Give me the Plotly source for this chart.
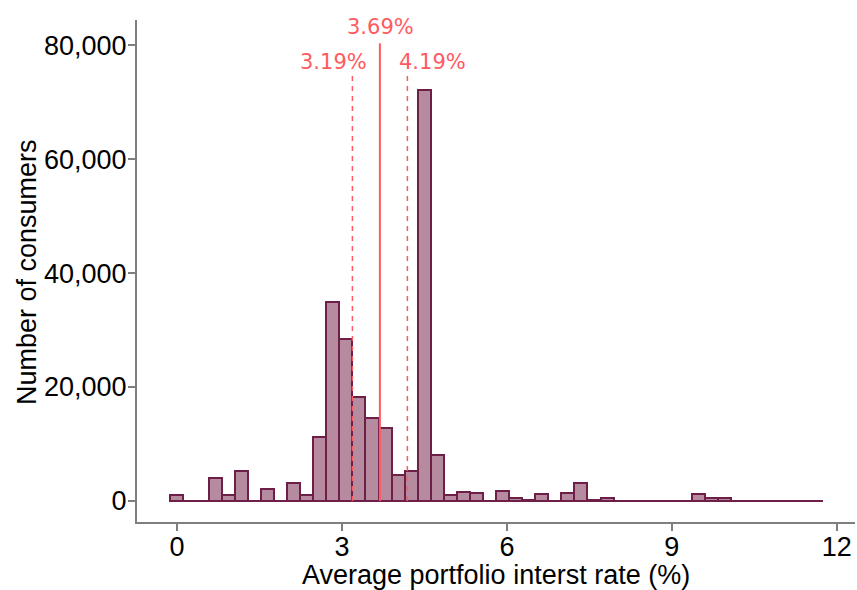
import plotly.graph_objects as go

# Histogram data (50 equal-width bins)
bin_start = -0.135
bin_width = 0.2375
counts = [1000, 0, 0, 4100, 1000, 5200, 0, 2050, 0, 3200,
          1000, 11200, 35000, 28400, 18200, 14600, 12750, 4500, 5300, 72200,
          8000, 1000, 1580, 1460, 0, 1700, 470, 200, 1290, 0,
          1450, 3100, 150, 450, 0, 0, 0, 0, 0, 0,
          1170, 470, 470, 0, 0, 0, 0, 0, 0, 0]

# Reference lines (mean and +/- 0.5)
ref_values = [3.19, 3.69, 4.19]
ref_labels = ["3.19%", "3.69%", "4.19%"]
ref_tops = [75000, 80300, 75000]
label_x = [2.855, 3.70, 4.645]
label_y = [77000, 83200, 77000]

x_ticks = [0, 3, 6, 9, 12]
y_ticks = [0, 20000, 40000, 60000, 80000]

centers = [bin_start + (i + 0.5) * bin_width for i in range(len(counts))]
x_end = bin_start + len(counts) * bin_width

fill = "#B68A9F"
edge = "#6E1F48"
red = "#FF5A5F"

fig = go.Figure()
fig.add_trace(go.Scatter(x=[bin_start, x_end], y=[0, 0], mode="lines",
                         line=dict(color=edge, width=2), hoverinfo="skip",
                         showlegend=False))
fig.add_trace(go.Bar(x=centers, y=counts, width=bin_width,
                     marker=dict(color=fill, line=dict(color=edge, width=2)),
                     showlegend=False))

for v, top, lab, lx, ly in zip(ref_values, ref_tops, ref_labels, label_x, label_y):
    solid = abs(v - 3.69) < 1e-9
    fig.add_shape(type="line", x0=v, x1=v, y0=0, y1=top, xref="x", yref="y",
                  line=dict(color=red, width=2 if solid else 1.5,
                            dash="solid" if solid else "5px,5px"),
                  layer="above")
    fig.add_annotation(x=lx, y=ly, xref="x", yref="y", text=lab, showarrow=False,
                       font=dict(family="DejaVu Sans", size=21, color=red),
                       xanchor="center", yanchor="middle")

# Axis titles as paper annotations
fig.add_annotation(x=(496 - 137) / 718, y=-(575 - 522) / 502, xref="paper", yref="paper",
                   text="Average portfolio interst rate (%)", showarrow=False,
                   xanchor="center", yanchor="middle",
                   font=dict(family="Liberation Sans", size=27, color="#000000"))
fig.add_annotation(x=-(137 - 27) / 718, y=(522 - 272) / 502, xref="paper", yref="paper",
                   text="Number of consumers", showarrow=False, textangle=-90,
                   xanchor="center", yanchor="middle",
                   font=dict(family="Liberation Sans", size=27, color="#000000"))

fig.update_layout(
    width=857, height=590,
    margin=dict(l=137, r=2, t=20, b=68),
    plot_bgcolor="white", paper_bgcolor="white",
    separators=".,",
    bargap=0,
    font=dict(family="Liberation Sans", size=27, color="#000000"),
    xaxis=dict(range=[-0.727, 12.33], tickvals=x_ticks, ticktext=[str(t) for t in x_ticks],
               showgrid=False, zeroline=False, showline=True, linecolor="#7F7F7F", linewidth=2,
               ticks="outside", ticklen=7, tickwidth=2, tickcolor="#7F7F7F",
               ticklabelstandoff=-7,
               tickfont=dict(family="Liberation Sans", size=27, color="#000000")),
    yaxis=dict(range=[-3680, 84400], tickvals=y_ticks, tickformat=",d",
               showgrid=False, zeroline=False, showline=True, linecolor="#7F7F7F", linewidth=2,
               ticks="outside", ticklen=7, tickwidth=2, tickcolor="#7F7F7F",
               ticklabelstandoff=-4,
               tickfont=dict(family="Liberation Sans", size=27, color="#000000")),
)

fig.write_html("out.html")
